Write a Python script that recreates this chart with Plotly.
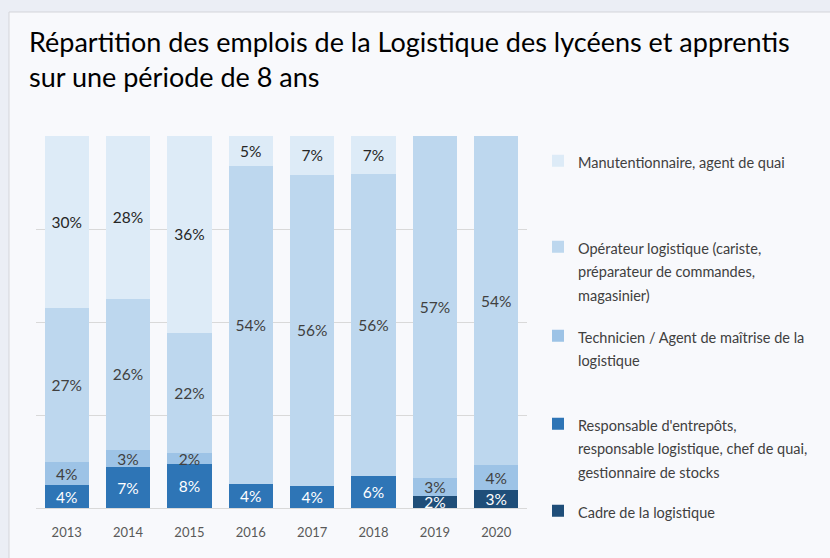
import plotly.graph_objects as go

years = ["2013", "2014", "2015", "2016", "2017", "2018", "2019", "2020"]

cadre = [0, 0, 0, 0, 0, 0, 2, 3]
responsable = [4, 7, 8, 4, 4, 6, 0, 0]
technicien = [4, 3, 2, 0, 0, 0, 3, 4]
operateur = [27, 26, 22, 54, 56, 56, 57, 54]
manutention = [30, 28, 36, 5, 7, 7, 0, 0]

series = [
    ("Cadre de la logistique", cadre, "#1f4e79", "white",
     ["Cadre de la logistique"]),
    ("Responsable d'entrepôts", responsable, "#2e75b6", "white",
     ["Responsable d'entrepôts,", "responsable logistique, chef de quai,", "gestionnaire de stocks"]),
    ("Technicien", technicien, "#9dc3e6", "#404040",
     ["Technicien / Agent de maîtrise de la", "logistique"]),
    ("Opérateur", operateur, "#bdd7ee", "#404040",
     ["Opérateur logistique (cariste,", "préparateur de commandes,", "magasinier)"]),
    ("Manutentionnaire", manutention, "#ddebf7", "#262626",
     ["Manutentionnaire, agent de quai"]),
]

FONT = "Lato"
# plot area in px
L, R, T, B = 36, 527, 136, 508
W, H = 830, 558

def py(px):
    return (B - px) / (B - T)

def px_x(px):
    return (px - L) / (R - L)

# first-line centre (px) of each legend entry, in series order
legend_first_line = [512, 425, 337, 248, 162]

fig = go.Figure()
for i, (key, vals, col, tcol, lines) in enumerate(series):
    name = "<br>".join(f'<span style="font-size:14.5px">{ln}</span>' for ln in lines)
    lid = "legend" if i == 0 else f"legend{i+1}"
    fig.add_trace(go.Bar(
        x=years,
        y=[v if v else None for v in vals],
        name=name,
        marker=dict(color=col, line=dict(width=0)),
        text=[f"{v}%" if v else "" for v in vals],
        textposition="inside",
        insidetextanchor="middle",
        textangle=0,
        constraintext="none",
        insidetextfont=dict(family=FONT, size=15.5, color=tcol),
        cliponaxis=False,
        legend=lid,
        hoverinfo="skip",
    ))
    fig.update_layout(**{lid: dict(
        x=px_x(538), xanchor="left",
        y=py(legend_first_line[i] - 19.5), yanchor="top",
        bgcolor="rgba(0,0,0,0)",
        font=dict(family=FONT, size=18, color="#404040"),
        valign="top",
        itemclick=False, itemdoubleclick=False,
    )})

fig.add_shape(
    type="rect", xref="paper", yref="paper", layer="below",
    x0=px_x(9), x1=px_x(900), y0=py(600), y1=py(12),
    fillcolor="#f8f9fc", line=dict(color="#d3d5d9", width=1),
)

fig.update_layout(
    width=W, height=H,
    margin=dict(l=L, r=W - R, t=T, b=H - B),
    paper_bgcolor="#ebeef5",
    plot_bgcolor="#f8f9fc",
    barmode="stack",
    barnorm="percent",
    bargap=0.28,
    showlegend=True,
    title=dict(
        text="Répartition des emplois de la Logistique des lycéens et apprentis<br>sur une période de 8 ans",
        xref="container", yref="container",
        x=29 / W, xanchor="left",
        y=1 - 52 / H, yanchor="top",
        font=dict(family=FONT, size=27, color="#000000"),
    ),
    font=dict(family=FONT),
    xaxis=dict(
        showline=True, linecolor="#d9d9d9", linewidth=1,
        ticks="", tickfont=dict(family=FONT, size=13, color="#595959"),
        ticklabelstandoff=12,
        fixedrange=True,
    ),
    yaxis=dict(
        range=[0, 100], dtick=25, showticklabels=False,
        showgrid=True, gridcolor="#d9d9d9", gridwidth=1,
        zeroline=False, fixedrange=True,
    ),
)

fig.write_html(
    "out.html",
    config={"displayModeBar": False},
    post_script="document.body.style.margin='0';document.body.style.overflow='hidden';",
)
